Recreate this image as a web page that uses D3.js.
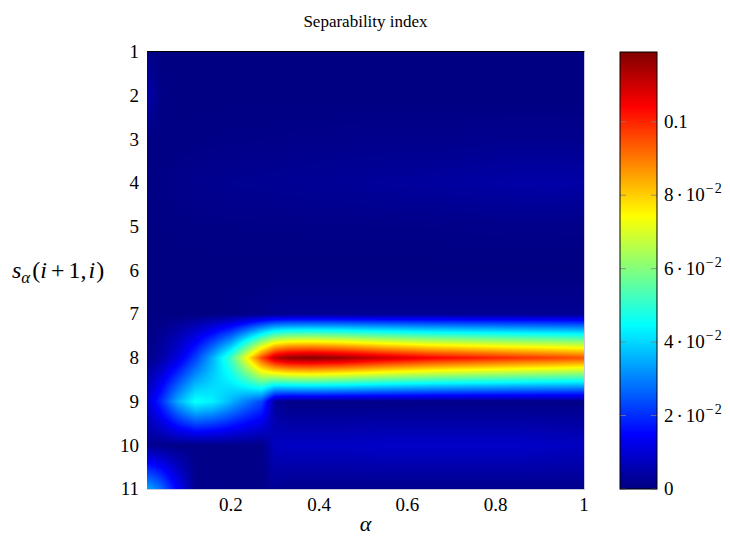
<!DOCTYPE html>
<html>
<head>
<meta charset="utf-8">
<script src="https://cdn.jsdelivr.net/npm/d3@7/dist/d3.min.js"></script>
<style>
  body { margin: 0; background: #fff; }
  svg text { font-family: "Liberation Serif", "Times New Roman", serif; fill: #000; }
</style>
</head>
<body>
<svg id="chart" width="730" height="540" font-family="Liberation Serif, Times New Roman, serif"></svg>
<script>
// Separability index s_alpha(i+1, i) sampled on an alpha grid (columns) for i = 1..11 (rows)
const alphas = [0.01, 0.04, 0.08, 0.12, 0.16, 0.2, 0.23, 0.27, 0.3, 0.33, 0.38, 0.45, 0.55, 0.65, 0.75, 0.85, 0.93, 1.0];
const rowIds = [1, 2, 3, 4, 5, 6, 7, 8, 9, 10, 11];

const idx1  = [0.0008, 0.0005, 0.0003, 0.0003, 0.0003, 0.0003, 0.0003, 0.0003, 0.0003, 0.0003, 0.0003, 0.0003, 0.0003, 0.0003, 0.0003, 0.0003, 0.0003, 0.0003];
const idx2  = [0.0055, 0.0008, 0.0003, 0.0003, 0.0003, 0.0003, 0.0003, 0.0003, 0.0003, 0.0003, 0.0003, 0.0003, 0.0003, 0.0003, 0.0003, 0.0003, 0.0003, 0.0003];
const idx3  = [0.0004, 0.0004, 0.0005, 0.0006, 0.0007, 0.0008, 0.0008, 0.0009, 0.0009, 0.001, 0.0011, 0.0012, 0.0013, 0.0013, 0.0015, 0.0016, 0.0016, 0.0015];
const idx4  = [0.0005, 0.0008, 0.0012, 0.0016, 0.0018, 0.002, 0.0021, 0.0022, 0.0023, 0.0024, 0.0026, 0.0028, 0.0032, 0.0035, 0.004, 0.0045, 0.0046, 0.0042];
const idx5  = [0.0003, 0.0004, 0.0005, 0.0006, 0.0006, 0.0007, 0.0007, 0.0007, 0.0007, 0.0007, 0.0008, 0.0008, 0.0009, 0.0009, 0.001, 0.0011, 0.0011, 0.001];
const idx6  = [0.0003, 0.0003, 0.0003, 0.0003, 0.0003, 0.0003, 0.0003, 0.0003, 0.0003, 0.0003, 0.0003, 0.0003, 0.0003, 0.0003, 0.0003, 0.0003, 0.0003, 0.0003];
const idx7  = [0.0003, 0.0003, 0.0003, 0.0003, 0.0004, 0.0006, 0.0009, 0.0015, 0.002, 0.0022, 0.0022, 0.0022, 0.0022, 0.0022, 0.0022, 0.0022, 0.0022, 0.0022];
const idx8  = [0.001, 0.004, 0.011, 0.022, 0.036, 0.052, 0.07, 0.096, 0.112, 0.117, 0.1185, 0.116, 0.11, 0.105, 0.102, 0.099, 0.097, 0.095];
const idx9  = [0.009, 0.019, 0.035, 0.046, 0.043, 0.036, 0.03, 0.023, 0.003, 0.0008, 0.0008, 0.0008, 0.0008, 0.0008, 0.0008, 0.0008, 0.0008, 0.0008];
const idx10 = [0.002, 0.0015, 0.001, 0.001, 0.001, 0.001, 0.001, 0.001, 0.0075, 0.008, 0.008, 0.008, 0.0085, 0.0085, 0.0085, 0.0085, 0.008, 0.0075];
const idx11 = [0.035, 0.028, 0.014, 0.0015, 0.001, 0.001, 0.001, 0.001, 0.0025, 0.0015, 0.0015, 0.0015, 0.0015, 0.0015, 0.0015, 0.0015, 0.0015, 0.0015];
const grid = [idx1, idx2, idx3, idx4, idx5, idx6, idx7, idx8, idx9, idx10, idx11];

const xTicks = [0.2, 0.4, 0.6, 0.8, 1];
const yTicks = rowIds;
const cbTicks = [0, 0.02, 0.04, 0.06, 0.08, 0.1];
const cbMant = ["0", "2", "4", "6", "8", "0.1"];
const metaMin = 0, metaMax = 0.119;

// layout
const plot = { left: 147, right: 584, top: 52, bottom: 489 };
const cb = { left: 620, right: 657 };

const svg = d3.select("#chart");
const x = d3.scaleLinear().domain([0.01, 1]).range([plot.left, plot.right]);
const y = d3.scaleLinear().domain([1, 11]).range([plot.top, plot.bottom]);
const c = d3.scaleLinear().domain([metaMin, metaMax]).range([plot.bottom, plot.top]);

// pgfplots "jet" colormap
const jetStops = [0, 1, 3, 5, 7, 8].map(s => metaMin + s / 8 * (metaMax - metaMin));
const jet = d3.scaleLinear().domain(jetStops)
  .range(["rgb(0,0,128)", "rgb(0,0,255)", "rgb(0,255,255)", "rgb(255,255,0)", "rgb(255,0,0)", "rgb(128,0,0)"])
  .interpolate(d3.interpolateRgb).clamp(true);

// bilinear interpolation of the grid
function sample(a, r) {
  let i = d3.bisectRight(alphas, a) - 1;
  i = Math.max(0, Math.min(alphas.length - 2, i));
  const t = Math.max(0, Math.min(1, (a - alphas[i]) / (alphas[i + 1] - alphas[i])));
  let j = Math.floor(r) - 1;
  j = Math.max(0, Math.min(rowIds.length - 2, j));
  const u = Math.max(0, Math.min(1, r - rowIds[j]));
  const top = grid[j][i] * (1 - t) + grid[j][i + 1] * t;
  const bot = grid[j + 1][i] * (1 - t) + grid[j + 1][i + 1] * t;
  return top * (1 - u) + bot * u;
}

// heat map raster
const W = plot.right - plot.left, H = plot.bottom - plot.top;
const canvas = document.createElement("canvas");
canvas.width = W; canvas.height = H;
const ctx = canvas.getContext("2d");
const img = ctx.createImageData(W, H);
for (let py = 0; py < H; py++) {
  const r = y.invert(plot.top + py + 0.5);
  for (let px = 0; px < W; px++) {
    const a = x.invert(plot.left + px + 0.5);
    const col = d3.rgb(jet(sample(a, r)));
    const k = (py * W + px) * 4;
    img.data[k] = col.r; img.data[k + 1] = col.g; img.data[k + 2] = col.b; img.data[k + 3] = 255;
  }
}
ctx.putImageData(img, 0, 0);
svg.append("image")
  .attr("x", plot.left).attr("y", plot.top)
  .attr("width", W).attr("height", H)
  .attr("preserveAspectRatio", "none")
  .attr("href", canvas.toDataURL());

// axis frame
svg.append("line").attr("x1", plot.left).attr("x2", plot.right + 0.5)
  .attr("y1", plot.top - 0.5).attr("y2", plot.top - 0.5).attr("stroke", "#000").attr("stroke-width", 1);
svg.append("line").attr("x1", plot.right + 0.5).attr("x2", plot.right + 0.5)
  .attr("y1", plot.top).attr("y2", plot.bottom).attr("stroke", "#c8c8d8").attr("stroke-width", 1);
svg.append("line").attr("x1", plot.left).attr("x2", plot.right + 1)
  .attr("y1", plot.bottom + 0.5).attr("y2", plot.bottom + 0.5).attr("stroke", "#c8c8d8").attr("stroke-width", 1);

// x tick labels
svg.append("g").selectAll("text").data(xTicks).join("text")
  .attr("x", d => x(d)).attr("y", 511)
  .attr("text-anchor", "middle").attr("font-size", 19)
  .text(d => d3.format("~g")(d));

// y tick labels
svg.append("g").selectAll("text").data(yTicks).join("text")
  .attr("x", 139).attr("y", d => y(d)).attr("dy", "0.33em")
  .attr("text-anchor", "end").attr("font-size", 19)
  .text(d => d);

// title
svg.append("text").attr("x", (plot.left + plot.right) / 2).attr("y", 27)
  .attr("text-anchor", "middle").attr("font-size", 17).text("Separability index");

// x label
svg.append("text").attr("x", (plot.left + plot.right) / 2).attr("y", 531)
  .attr("text-anchor", "middle").attr("font-size", 22).attr("font-style", "italic").text("α");

// y label s_alpha(i+1,i)
const yl = svg.append("text").attr("x", 12).attr("y", 278).attr("font-size", 24);
yl.append("tspan").attr("font-style", "italic").text("s");
yl.append("tspan").attr("font-style", "italic").attr("font-size", 17).attr("dy", 5).text("α");
yl.append("tspan").attr("dy", -5).attr("dx", 2).text("(");
yl.append("tspan").attr("font-style", "italic").text("i");
yl.append("tspan").attr("dx", 4).text("+");
yl.append("tspan").attr("dx", 4).text("1");
yl.append("tspan").text(",");
yl.append("tspan").attr("dx", 2).attr("font-style", "italic").text("i");
yl.append("tspan").attr("dx", 1).text(")");

// colour bar
const CH = plot.bottom - plot.top;
const cbCanvas = document.createElement("canvas");
cbCanvas.width = 1; cbCanvas.height = CH;
const cctx = cbCanvas.getContext("2d");
for (let py = 0; py < CH; py++) {
  cctx.fillStyle = jet(c.invert(plot.top + py + 0.5));
  cctx.fillRect(0, py, 1, 1);
}
svg.append("image")
  .attr("x", cb.left).attr("y", plot.top)
  .attr("width", cb.right - cb.left).attr("height", CH)
  .attr("preserveAspectRatio", "none")
  .attr("href", cbCanvas.toDataURL());

const cbg = svg.append("g");
cbg.selectAll("line.l").data(cbTicks).join("line").attr("class", "l")
  .attr("x1", cb.left).attr("x2", cb.left + 6)
  .attr("y1", d => c(d)).attr("y2", d => c(d))
  .attr("stroke", "#808080").attr("stroke-width", 0.8);
cbg.selectAll("line.r").data(cbTicks).join("line").attr("class", "r")
  .attr("x1", cb.right - 6).attr("x2", cb.right)
  .attr("y1", d => c(d)).attr("y2", d => c(d))
  .attr("stroke", "#808080").attr("stroke-width", 0.8);
svg.append("rect").attr("x", cb.left).attr("y", plot.top)
  .attr("width", cb.right - cb.left).attr("height", CH)
  .attr("fill", "none").attr("stroke", "#000").attr("stroke-width", 1);

cbTicks.forEach((d, k) => {
  const t = svg.append("text").attr("x", cb.right + 7).attr("y", c(d)).attr("dy", "0.33em").attr("font-size", 19);
  if (d === 0 || d === 0.1) {
    t.text(cbMant[k]);
  } else {
    t.append("tspan").text(cbMant[k]);
    t.append("tspan").attr("dx", 3).text("·");
    t.append("tspan").attr("dx", 3).text("10");
    t.append("tspan").attr("font-size", 14).attr("dy", -8).attr("dx", 1).text("−");
    t.append("tspan").attr("font-size", 14).attr("dx", 1).text("2");
  }
});
</script>
</body>
</html>
